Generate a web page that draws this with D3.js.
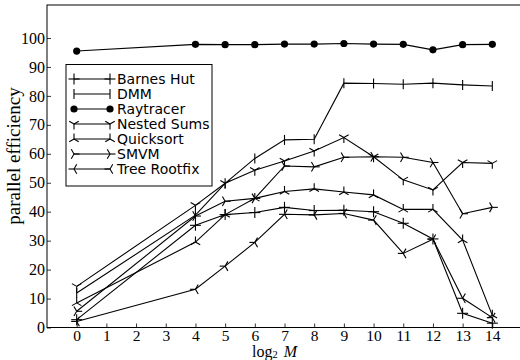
<!DOCTYPE html>
<html>
<head>
<meta charset="utf-8">
<script src="https://cdn.jsdelivr.net/npm/d3@7"></script>
<style>
  html, body { margin: 0; padding: 0; background: #fff; }
  svg { display: block; }
</style>
</head>
<body>
<svg id="chart" width="520" height="360"></svg>
<script>
// log2 M values at which each benchmark was measured
const logM = [0, 4, 5, 6, 7, 8, 9, 10, 11, 12, 13, 14];

// parallel efficiency (%) per benchmark
const barnesHut   = [2.7, 35.3, 39.0, 39.7, 41.5, 40.4, 40.5, 40.0, 36.0, 30.6, 4.9, 1.5];
const dmm         = [11.9, 38.8, 49.8, 58.4, 64.8, 65.0, 84.4, 84.3, 84.0, 84.4, 83.8, 83.4];
const raytracer   = [95.5, 97.8, 97.7, 97.7, 97.9, 97.9, 98.1, 97.9, 97.8, 95.9, 97.7, 97.8];
const nestedSums  = [14.2, 42.2, 49.8, 54.3, 57.5, 61.0, 65.6, 59.0, 51.0, 47.5, 57.0, 56.7];
const quicksort   = [8.5, 29.5, 39.0, 44.6, 47.0, 47.9, 46.8, 45.8, 40.8, 40.8, 30.2, 4.2];
const smvm        = [5.6, 38.5, 43.6, 44.6, 55.8, 55.5, 58.8, 59.0, 58.8, 57.0, 39.3, 41.5];
const treeRootfix = [2.1, 13.2, 21.2, 29.4, 39.1, 38.9, 39.4, 37.1, 25.6, 30.5, 10.1, 3.4];

const seriesNames = ["Barnes Hut", "DMM", "Raytracer", "Nested Sums", "Quicksort", "SMVM", "Tree Rootfix"];
const seriesValues = [barnesHut, dmm, raytracer, nestedSums, quicksort, smvm, treeRootfix];
const seriesMarkers = ["plus", "vline", "circle", "triDown", "triUp", "triRight", "triLeft"];

const xTicks = d3.range(0, 15);
const yTicks = d3.range(0, 101, 10);

const svg = d3.select("#chart");
const frameLeft = 47, frameTop = 5, frameBottom = 327.5, frameRight = 522;

const x = d3.scaleLinear().domain([-1, 15]).range([frameLeft, frameRight]);
const y = d3.scaleLinear().domain([0, 111.4]).range([frameBottom, frameTop]);

const ink = "#000";
const serif = "'Liberation Serif', 'Times New Roman', serif";

// axes with inward ticks
const yAxis = d3.axisLeft(y).tickValues(yTicks).tickSize(-4).tickPadding(2);
const xAxis = d3.axisBottom(x).tickValues(xTicks).tickSize(-4).tickPadding(2);

const gy = svg.append("g").attr("transform", `translate(${frameLeft},0)`).call(yAxis);
const gx = svg.append("g").attr("transform", `translate(0,${frameBottom})`).call(xAxis);
[gx, gy].forEach(g => {
  g.select(".domain").remove();
  g.selectAll(".tick line").attr("stroke", ink).attr("stroke-width", 0.8);
  g.selectAll(".tick text")
    .attr("fill", ink)
    .style("font-family", serif)
    .style("font-size", "16px");
});
gx.selectAll(".tick text").style("font-size", "15.5px");

// plot frame
svg.append("rect")
  .attr("x", frameLeft).attr("y", frameTop)
  .attr("width", frameRight - frameLeft).attr("height", frameBottom - frameTop)
  .attr("fill", "none").attr("stroke", ink).attr("stroke-width", 1);

// marker glyphs
function drawMarker(g, type, cx, cy) {
  const s = 1.1;
  if (type === "circle") {
    g.append("circle").attr("cx", cx).attr("cy", cy).attr("r", 3.6).attr("fill", ink);
    return;
  }
  let segs = [];
  if (type === "plus") {
    const r = 5.5;
    segs = [[-r, 0, r, 0], [0, -r, 0, r]];
  } else if (type === "vline") {
    const r = 5;
    segs = [[0, -r, 0, r]];
  } else {
    const r = 5.5, a = 0.866 * r, b = 0.5 * r;
    if (type === "triDown") segs = [[0, 0, 0, r], [0, 0, -a, -b], [0, 0, a, -b]];
    if (type === "triUp") segs = [[0, 0, 0, -r], [0, 0, -a, b], [0, 0, a, b]];
    if (type === "triLeft") segs = [[0, 0, -r, 0], [0, 0, b, -a], [0, 0, b, a]];
    if (type === "triRight") segs = [[0, 0, r, 0], [0, 0, -b, -a], [0, 0, -b, a]];
  }
  segs.forEach(([x1, y1, x2, y2]) => {
    g.append("line")
      .attr("x1", cx + x1).attr("y1", cy + y1)
      .attr("x2", cx + x2).attr("y2", cy + y2)
      .attr("stroke", ink).attr("stroke-width", s);
  });
}

const line = d3.line().x(d => x(d[0])).y(d => y(d[1]));

const plot = svg.append("g");
seriesValues.forEach((vals, i) => {
  const pts = logM.map((m, j) => [m, vals[j]]);
  const g = plot.append("g");
  g.append("path")
    .attr("d", line(pts))
    .attr("fill", "none").attr("stroke", ink).attr("stroke-width", 1.1);
  pts.forEach(p => drawMarker(g, seriesMarkers[i], x(p[0]), y(p[1])));
});

// legend
const legend = svg.append("g");
legend.append("rect")
  .attr("x", 66).attr("y", 64.5).attr("width", 146).attr("height", 121.5)
  .attr("fill", "#fff").attr("stroke", ink).attr("stroke-width", 1);
seriesNames.forEach((name, i) => {
  const ly = 79 + i * 15;
  const g = legend.append("g");
  g.append("line").attr("x1", 74).attr("x2", 110).attr("y1", ly).attr("y2", ly)
    .attr("stroke", ink).attr("stroke-width", 1.1);
  drawMarker(g, seriesMarkers[i], 74, ly);
  drawMarker(g, seriesMarkers[i], 110, ly);
  g.append("text")
    .attr("x", 117).attr("y", ly).attr("dy", "0.36em")
    .attr("fill", ink)
    .style("font-family", "'DejaVu Sans', sans-serif")
    .style("font-size", "14px")
    .text(name);
});

// axis titles
svg.append("text")
  .attr("transform", "translate(20,156) rotate(-90)")
  .attr("text-anchor", "middle")
  .attr("fill", ink)
  .style("font-family", serif)
  .style("font-size", "19px")
  .text("parallel efficiency");

const xl = svg.append("text")
  .attr("x", 252).attr("y", 356.5)
  .attr("fill", ink)
  .style("font-family", serif)
  .style("font-size", "16px");
xl.append("tspan").text("log");
xl.append("tspan").attr("dy", 1.5).style("font-size", "10.5px").text("2");
xl.append("tspan").attr("dy", -1.5).attr("dx", 6).style("font-style", "italic").text("M");
</script>
</body>
</html>
